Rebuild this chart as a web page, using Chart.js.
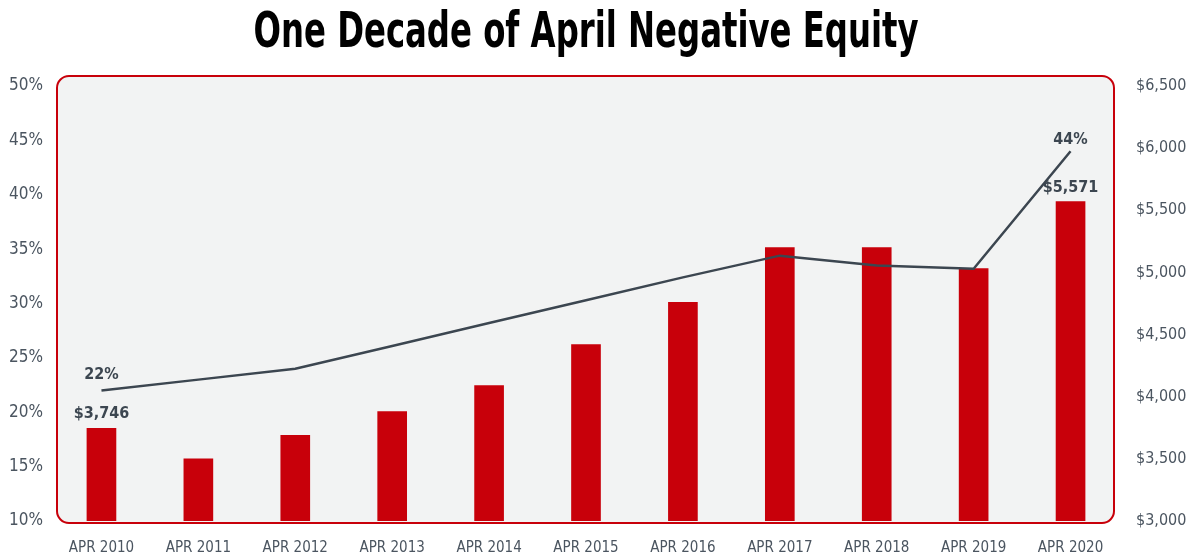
<!DOCTYPE html>
<html>
<head>
<meta charset="utf-8">
<script src="https://cdn.jsdelivr.net/npm/chart.js@4/dist/chart.umd.min.js"></script>
<style>
  html, body { margin: 0; padding: 0; background: #fff; }
  #wrap { width: 1193px; height: 557px; position: relative; }
</style>
</head>
<body>
<div id="wrap"><canvas id="chart"></canvas></div>
<script>
// chart data
const years = ["APR 2010", "APR 2011", "APR 2012", "APR 2013", "APR 2014", "APR 2015",
  "APR 2016", "APR 2017", "APR 2018", "APR 2019", "APR 2020"];
const avgNegEquity = [3746, 3500, 3690, 3880, 4090, 4420, 4760, 5200, 5200, 5030, 5571];
const pctNegEquity = [22, 23, 24, 26.1, 28.2, 30.3, 32.4, 34.4, 33.5, 33.2, 44];
const pctTicks = { min: 10, max: 50, step: 5 };
const moneyTicks = { min: 3000, max: 6500, step: 500 };
const titleText = "One Decade of April Negative Equity";

const FONT = "'DejaVu Sans Condensed', 'Roboto', sans-serif";
const RED = "#c8000a";
const DARK = "#3c4650";
const GREY = "#4b5560";

const fmtMoney = (v) => "$" + Number(v).toLocaleString("en-US");

// condensed heavy title, squeezed horizontally to match the narrow face
const titlePlugin = {
  id: "squeezedTitle",
  afterDraw(chart) {
    const { ctx } = chart;
    const targetWidth = 665, centerX = 586, baseline = 47;
    ctx.save();
    ctx.font = "bold 49px " + FONT;
    const w = ctx.measureText(titleText).width;
    ctx.translate(centerX, baseline);
    ctx.scale(targetWidth / w, 1);
    ctx.fillStyle = "#000";
    ctx.textAlign = "center";
    ctx.textBaseline = "alphabetic";
    ctx.fillText(titleText, 0, 0);
    ctx.restore();
  },
};

// rounded panel behind the plot
const panelPlugin = {
  id: "panel",
  beforeDatasetsDraw(chart) {
    const { ctx, chartArea: a } = chart;
    const x = a.left + 4, y = a.top - 10;
    const w = a.right - 5 - x, h = a.bottom + 2 - y;
    ctx.save();
    ctx.beginPath();
    ctx.roundRect(x, y, w, h, 12);
    ctx.fillStyle = "#f2f3f3";
    ctx.fill();
    ctx.lineWidth = 2;
    ctx.strokeStyle = RED;
    ctx.stroke();
    ctx.restore();
  },
};

// value labels on first and last point only
const endLabelsPlugin = {
  id: "endLabels",
  afterDatasetsDraw(chart) {
    const { ctx } = chart;
    ctx.save();
    ctx.fillStyle = DARK;
    ctx.textAlign = "center";
    ctx.textBaseline = "middle";

    const barMeta = chart.getDatasetMeta(0);
    const lineMeta = chart.getDatasetMeta(1);
    const last = years.length - 1;

    [0, last].forEach((i) => {
      const bar = barMeta.data[i];
      ctx.font = "bold 16px " + FONT;
      ctx.fillText(fmtMoney(avgNegEquity[i]), bar.x, bar.y - 14);
      const pt = lineMeta.data[i];
      const off = i === 0 ? 16 : 11;
      ctx.fillText(Math.round(pctNegEquity[i]) + "%", bar.x, pt.y - off);
    });
    ctx.restore();
  },
};

new Chart(document.getElementById("chart"), {
  type: "bar",
  data: {
    labels: years,
    datasets: [
      {
        label: "Average Negative Equity",
        data: avgNegEquity,
        backgroundColor: RED,
        yAxisID: "yMoney",
        barThickness: 29,
        order: 1,
      },
      {
        type: "line",
        label: "Negative Equity Share",
        data: pctNegEquity,
        borderColor: DARK,
        borderWidth: 2.5,
        pointRadius: 0,
        tension: 0,
        yAxisID: "yPct",
        order: 0,
      },
    ],
  },
  options: {
    responsive: true,
    maintainAspectRatio: false,
    animation: false,
    layout: { padding: { left: 0, right: 0, top: 86, bottom: 0 } },
    plugins: {
      legend: { display: false },
      tooltip: { enabled: false },
      title: { display: false },
    },
    scales: {
      x: {
        grid: { display: false },
        border: { display: false },
        ticks: {
          color: GREY,
          font: { family: FONT, size: 15 },
          padding: 10,
          maxRotation: 0,
          autoSkip: false,
        },
        afterFit: (s) => { s.height = 36; },
      },
      yPct: {
        position: "left",
        min: pctTicks.min,
        max: pctTicks.max,
        grid: { display: false, drawTicks: false },
        border: { display: false },
        ticks: {
          stepSize: pctTicks.step,
          color: GREY,
          font: { family: FONT, size: 17 },
          padding: 10,
          callback: (v) => v + "%",
        },
        afterFit: (s) => { s.width = 53; },
      },
      yMoney: {
        position: "right",
        min: moneyTicks.min,
        max: moneyTicks.max,
        grid: { display: false, drawTicks: false },
        border: { display: false },
        ticks: {
          stepSize: moneyTicks.step,
          color: GREY,
          font: { family: FONT, size: 16 },
          padding: 17,
          callback: (v) => fmtMoney(v),
        },
        afterFit: (s) => { s.width = 74; },
      },
    },
  },
  plugins: [panelPlugin, endLabelsPlugin, titlePlugin],
});
</script>
</body>
</html>
